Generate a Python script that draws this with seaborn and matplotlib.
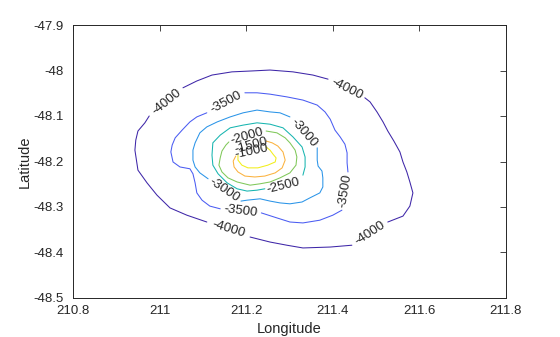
import matplotlib
matplotlib.use("Agg")
import matplotlib.pyplot as plt
import seaborn as sns
import pandas as pd

# ---- data: contour polylines (lon, lat) ----
levels = [-4000, -3500, -3000, -2500, -2000, -1500, -1000]

m4000_a_lon = [211.054, 211.086, 211.121, 211.167, 211.213, 211.255, 211.308, 211.354, 211.389]
m4000_a_lat = [-48.038, -48.023, -48.010, -48.003, -48.001, -47.999, -48.003, -48.010, -48.019]
m4000_b_lon = [211.474, 211.486, 211.502, 211.516, 211.527, 211.541, 211.555, 211.562, 211.571, 211.578, 211.585, 211.578, 211.562, 211.527]
m4000_b_lat = [-48.060, -48.069, -48.091, -48.113, -48.133, -48.155, -48.179, -48.201, -48.223, -48.245, -48.269, -48.298, -48.320, -48.333]
m4000_c_lon = [211.444, 211.394, 211.331, 211.294, 211.255, 211.209]
m4000_c_lat = [-48.384, -48.388, -48.390, -48.384, -48.377, -48.366]
m4000_d_lon = [211.109, 211.063, 211.024, 210.994, 210.971, 210.950, 210.943, 210.945, 210.950, 210.966, 210.976]
m4000_d_lat = [-48.333, -48.318, -48.302, -48.274, -48.247, -48.219, -48.175, -48.153, -48.133, -48.115, -48.100]

m3500_a_lon = [211.197, 211.225, 211.255, 211.294, 211.331, 211.364, 211.382, 211.394, 211.405, 211.417, 211.428, 211.433, 211.433, 211.435]
m3500_a_lat = [-48.049, -48.049, -48.052, -48.058, -48.065, -48.076, -48.091, -48.107, -48.131, -48.146, -48.162, -48.181, -48.203, -48.223]
m3500_b_lon = [211.421, 211.400, 211.370, 211.331, 211.301, 211.271, 211.235]
m3500_b_lat = [-48.307, -48.318, -48.329, -48.335, -48.333, -48.324, -48.313]
m3500_c_lon = [211.140, 211.116, 211.098, 211.086, 211.082, 211.077, 211.070, 211.047, 211.031, 211.026, 211.029, 211.036, 211.052, 211.070, 211.086, 211.109]
m3500_c_lat = [-48.304, -48.298, -48.285, -48.269, -48.247, -48.227, -48.216, -48.212, -48.201, -48.179, -48.164, -48.148, -48.131, -48.113, -48.102, -48.093]

m3000_a_lon = [211.112, 211.093, 211.082, 211.077, 211.077, 211.082, 211.093, 211.109, 211.133, 211.163, 211.193, 211.225, 211.255, 211.278, 211.301]
m3000_a_lat = [-48.238, -48.225, -48.212, -48.197, -48.175, -48.159, -48.137, -48.124, -48.113, -48.102, -48.093, -48.087, -48.091, -48.093, -48.102]
m3000_b_lon = [211.364, 211.364, 211.366, 211.375, 211.377, 211.377, 211.370, 211.347, 211.329, 211.301, 211.278, 211.255, 211.232, 211.202, 211.188]
m3000_b_lat = [-48.170, -48.197, -48.210, -48.221, -48.236, -48.256, -48.269, -48.280, -48.289, -48.293, -48.291, -48.287, -48.282, -48.285, -48.287]

m2500_lon = [211.331, 211.336, 211.336, 211.329, 211.308, 211.285, 211.255, 211.225, 211.193, 211.163, 211.140, 211.123, 211.121, 211.123, 211.135, 211.156, 211.179, 211.202, 211.225, 211.243]
m2500_lat = [-48.230, -48.212, -48.190, -48.168, -48.146, -48.126, -48.118, -48.115, -48.120, -48.126, -48.142, -48.159, -48.186, -48.208, -48.227, -48.247, -48.260, -48.265, -48.263, -48.260]

m2000_lon = [211.246, 211.271, 211.290, 211.301, 211.313, 211.317, 211.315, 211.301, 211.278, 211.255, 211.232, 211.209, 211.179, 211.158, 211.144, 211.137, 211.140, 211.144, 211.153, 211.160]
m2000_lat = [-48.133, -48.137, -48.148, -48.159, -48.175, -48.190, -48.208, -48.225, -48.236, -48.245, -48.249, -48.252, -48.245, -48.236, -48.223, -48.208, -48.192, -48.177, -48.164, -48.157]

m1500_lon = [211.246, 211.260, 211.273, 211.285, 211.290, 211.283, 211.267, 211.243, 211.220, 211.197, 211.181, 211.172, 211.170, 211.176]
m1500_lat = [-48.155, -48.159, -48.166, -48.179, -48.197, -48.214, -48.225, -48.232, -48.234, -48.232, -48.223, -48.212, -48.199, -48.188]

m1000_lon = [211.246, 211.255, 211.262, 211.269, 211.267, 211.250, 211.227, 211.204, 211.190, 211.181, 211.181]
m1000_lat = [-48.168, -48.175, -48.184, -48.192, -48.201, -48.208, -48.214, -48.214, -48.208, -48.197, -48.186]

# contour labels
label_text = ["-4000", "-4000", "-4000", "-4000", "-3500", "-3500", "-3500",
              "-3000", "-3000", "-2500", "-2000", "-1500", "-1000"]
label_lon = [211.016, 211.432, 211.486, 211.159, 211.153, 211.428, 211.186,
             211.332, 211.150, 211.285, 211.202, 211.211, 211.213]
label_lat = [-48.069, -48.040, -48.358, -48.349, -48.071, -48.265, -48.309,
             -48.136, -48.263, -48.254, -48.146, -48.166, -48.179]
label_rot = [39, -27, 33, -17, 28, 81, -7, -49, -34, 14, 16, 15, 12]

x_ticks = [210.8, 211.0, 211.2, 211.4, 211.6, 211.8]
x_ticklabels = ["210.8", "211", "211.2", "211.4", "211.6", "211.8"]
y_ticks = [-47.9, -48.0, -48.1, -48.2, -48.3, -48.4, -48.5]
y_ticklabels = ["-47.9", "-48", "-48.1", "-48.2", "-48.3", "-48.4", "-48.5"]

# ---- build long table ----
segments = [
    (-4000, m4000_a_lon, m4000_a_lat), (-4000, m4000_b_lon, m4000_b_lat),
    (-4000, m4000_c_lon, m4000_c_lat), (-4000, m4000_d_lon, m4000_d_lat),
    (-3500, m3500_a_lon, m3500_a_lat), (-3500, m3500_b_lon, m3500_b_lat),
    (-3500, m3500_c_lon, m3500_c_lat),
    (-3000, m3000_a_lon, m3000_a_lat), (-3000, m3000_b_lon, m3000_b_lat),
    (-2500, m2500_lon, m2500_lat),
    (-2000, m2000_lon, m2000_lat),
    (-1500, m1500_lon, m1500_lat),
    (-1000, m1000_lon, m1000_lat),
]
rows = []
for sid, (lev, lo, la) in enumerate(segments):
    for k, (a, b) in enumerate(zip(lo, la)):
        rows.append({"lon": a, "lat": b, "level": lev, "seg": sid, "order": k})
df = pd.DataFrame(rows)

palette = {-4000: "#3e26a8", -3500: "#4a5cf2", -3000: "#2a94e8",
           -2500: "#17b5b0", -2000: "#80c85a", -1500: "#fbb23e",
           -1000: "#f2ee1a"}

sns.set_style("white")
plt.rcParams["font.family"] = ["Liberation Sans", "DejaVu Sans"]
plt.rcParams["axes.unicode_minus"] = False

fig = plt.figure(figsize=(5.6, 3.37), dpi=100)
ax = fig.add_axes([73 / 560, 39 / 337, 433 / 560, 273 / 337])

sns.lineplot(data=df, x="lon", y="lat", hue="level", units="seg",
             estimator=None, sort=False, palette=palette, legend=False,
             linewidth=0.75, ax=ax)

for t, lo, la, r in zip(label_text, label_lon, label_lat, label_rot):
    ax.text(lo, la, t, rotation=r, rotation_mode="anchor", ha="center",
            va="center", fontsize=9.5, color="#262626")

ax.set_xlim(210.8, 211.8)
ax.set_ylim(-48.5, -47.9)
ax.set_xticks(x_ticks)
ax.set_xticklabels(x_ticklabels)
ax.set_yticks(y_ticks)
ax.set_yticklabels(y_ticklabels)
ax.tick_params(direction="in", length=4, width=0.6, top=True, right=True,
               labelsize=9.5, colors="#262626")
ax.tick_params(axis="y", pad=6.5)
ax.tick_params(axis="x", pad=5)
for s in ax.spines.values():
    s.set_color("#262626")
    s.set_linewidth(0.7)
ax.set_xlabel("Longitude", fontsize=10.5, color="#262626", labelpad=3.5)
ax.set_ylabel("Latitude", fontsize=10.5, color="#262626", labelpad=1.5)

fig.savefig("out.png", dpi=100)
